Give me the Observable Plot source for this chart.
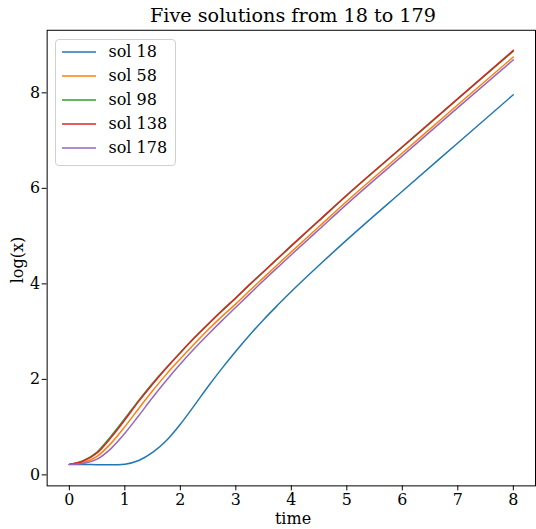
<!DOCTYPE html>
<html><head><meta charset="utf-8">
<script src="https://cdn.jsdelivr.net/npm/d3@7"></script>
<script src="https://cdn.jsdelivr.net/npm/@observablehq/plot@0.6"></script>
<style>
body{margin:0;overflow:hidden;background:#fff;font-family:"DejaVu Serif",serif;}
#wrap{position:relative;width:536px;height:529px;overflow:hidden;}
#chart{position:absolute;left:0;top:0;}
#title{position:absolute;left:47px;width:492px;top:5px;text-align:center;font-size:19.2px;line-height:22px;color:#000;}
#xlabel{position:absolute;left:47px;width:492px;top:509px;text-align:center;font-size:16px;line-height:20px;}
#ylabel{position:absolute;left:18px;top:260px;font-size:16px;line-height:18px;transform:translate(-50%,-50%) rotate(-90deg);white-space:nowrap;}
#legend{position:absolute;left:55px;top:39px;width:121px;height:127px;border:1px solid #d0d0d0;border-radius:4px;background:rgba(255,255,255,0.8);box-sizing:border-box;}
.row{position:absolute;left:0;height:20px;width:100%;}
.sw{position:absolute;left:5.5px;top:0;}
.lab{position:absolute;left:52.5px;top:0;font-size:16px;line-height:20px;white-space:nowrap;}
</style>
</head><body>
<div id="wrap">
  <div id="chart"></div>
  <div id="title">Five solutions from 18 to 179</div>
  <div id="xlabel">time</div>
  <div id="ylabel">log(x)</div>
  <div id="legend"></div>
</div>
<script>
const times  = [0, 0.25, 0.5, 0.75, 1, 1.25, 1.5, 1.75, 2, 2.25, 2.5, 2.75, 3, 3.25, 3.5, 3.75, 4, 4.5, 5, 6, 7, 8];
const sol18  = [0.22,0.218,0.213,0.21,0.225,0.3,0.47,0.72,1.06,1.45,1.85,2.23,2.59,2.93,3.25,3.55,3.84,4.39,4.92,5.94,6.95,7.96];
const sol58  = [0.22,0.26,0.39,0.66,1.01,1.39,1.76,2.11,2.43,2.74,3.04,3.32,3.58,3.86,4.13,4.4,4.67,5.2,5.73,6.74,7.75,8.75];
const sol98  = [0.22,0.3,0.48,0.81,1.18,1.56,1.92,2.25,2.56,2.86,3.15,3.43,3.7,3.98,4.25,4.52,4.79,5.32,5.85,6.86,7.87,8.87];
const sol138 = [0.22,0.29,0.46,0.78,1.15,1.54,1.9,2.24,2.56,2.87,3.16,3.44,3.71,3.99,4.26,4.53,4.8,5.33,5.86,6.87,7.88,8.89];
const sol178 = [0.22,0.24,0.33,0.55,0.87,1.24,1.62,1.98,2.32,2.64,2.94,3.23,3.51,3.79,4.07,4.34,4.61,5.14,5.67,6.68,7.69,8.69];
const seriesNames = ["sol 18", "sol 58", "sol 98", "sol 138", "sol 178"];
const seriesColors = ["#1f77b4", "#ff7f0e", "#2ca02c", "#d62728", "#9467bd"];
const xTicks = [0,1,2,3,4,5,6,7,8];
const yTicks = [0,2,4,6,8];

const allSeries = [sol18, sol58, sol98, sol138, sol178];
const data = [];
allSeries.forEach((vals, i) => vals.forEach((v, j) => data.push({t: times[j], v, s: seriesNames[i]})));

const chart = Plot.plot({
  width: 540, height: 529,
  marginLeft: 47, marginRight: 1, marginTop: 30, marginBottom: 40,
  style: {fontFamily: "DejaVu Serif", fontSize: "16px", color: "#000", background: "transparent"},
  x: {domain: [-0.4, 8.4]},
  y: {domain: [-0.23, 9.31]},
  color: {domain: seriesNames, range: seriesColors},
  marks: [
    Plot.line(data, {x: "t", y: "v", stroke: "s", z: "s", strokeWidth: 1.5, curve: "monotone-x"}),
    Plot.frame({stroke: "#000", strokeWidth: 1}),
    Plot.axisX({ticks: xTicks, tickSize: 5, tickPadding: 3, label: null, fontSize: 16}),
    Plot.axisY({ticks: yTicks, tickSize: 5, tickPadding: 2, label: null, fontSize: 16})
  ]
});
document.getElementById("chart").appendChild(chart);

const leg = document.getElementById("legend");
const rowTops = [2, 26, 50, 74, 98];
seriesNames.forEach((n, i) => {
  const r = document.createElement("div");
  r.className = "row";
  r.style.top = rowTops[i] + "px";
  r.innerHTML = `<svg class="sw" width="34" height="20"><line x1="0" x2="34" y1="10" y2="10" stroke="${seriesColors[i]}" stroke-width="1.5"/></svg><div class="lab">${n}</div>`;
  leg.appendChild(r);
});
</script>
</body></html>
